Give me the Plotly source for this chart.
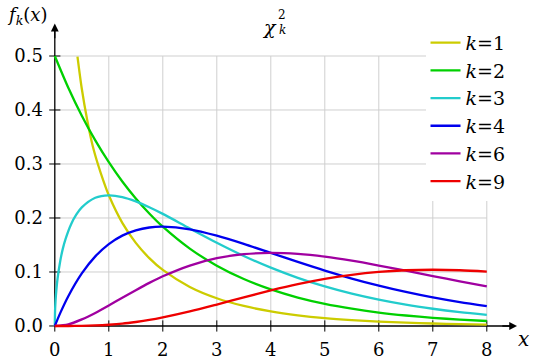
import plotly.graph_objects as go

# ---- data ----
x_main = [0, 0.25, 0.5, 0.75, 1, 1.25, 1.5, 1.75, 2, 2.5, 3, 3.5, 4, 4.5, 5, 5.5, 6, 6.5, 7, 7.5, 8]

x_k1 = [0.42, 0.5, 0.6, 0.7, 0.8, 0.9, 1, 1.25, 1.5, 1.75, 2, 2.5, 3, 3.5, 4, 4.5, 5, 5.5, 6, 6.5, 7, 7.5, 8]
y_k1 = [0.499, 0.4394, 0.3815, 0.3343, 0.2990, 0.2688, 0.2420, 0.1910, 0.1539, 0.1257, 0.1038,
        0.0723, 0.0514, 0.0371, 0.0270, 0.0198, 0.0146, 0.0109, 0.0081, 0.0061, 0.0046, 0.0034, 0.0026]

y_k2 = [0.5, 0.4412, 0.3894, 0.3436, 0.3033, 0.2676, 0.2362, 0.2084, 0.1839, 0.1433, 0.1116,
        0.0869, 0.0677, 0.0527, 0.0410, 0.0320, 0.0249, 0.0194, 0.0151, 0.0118, 0.0092]

x_k3 = [0, 0.005, 0.01, 0.02, 0.05, 0.1, 0.15, 0.2, 0.3, 0.4, 0.5, 0.75, 1, 1.25, 1.5, 1.75, 2, 2.5,
        3, 3.5, 4, 4.5, 5, 5.5, 6, 6.5, 7, 7.5, 8]
y_k3 = [0, 0.0281, 0.0397, 0.0559, 0.0870, 0.1200, 0.1437, 0.1614, 0.1881, 0.2066, 0.2197,
        0.2375, 0.2420, 0.2388, 0.2308, 0.2199, 0.2076, 0.1807, 0.1542, 0.1297, 0.1080, 0.0892,
        0.0732, 0.0598, 0.0487, 0.0394, 0.0319, 0.0257, 0.0207]

x_k4 = [0, 0.1, 0.25, 0.5, 0.75, 1, 1.25, 1.5, 1.75, 2, 2.5, 3, 3.5, 4, 4.5, 5, 5.5, 6, 6.5, 7, 7.5, 8]
y_k4 = [0, 0.0238, 0.0552, 0.0974, 0.1289, 0.1516, 0.1673, 0.1771, 0.1824, 0.1839, 0.1791,
        0.1673, 0.1521, 0.1353, 0.1186, 0.1026, 0.0879, 0.0747, 0.0630, 0.0528, 0.0441, 0.0366]

y_k6 = [0, 0.0028, 0.0122, 0.0242, 0.0379, 0.0523, 0.0664, 0.0798, 0.0920, 0.1119, 0.1255,
        0.1330, 0.1353, 0.1334, 0.1283, 0.1209, 0.1120, 0.1024, 0.0925, 0.0827, 0.0733]

y_k9 = [0, 0.0000, 0.0003, 0.0010, 0.0023, 0.0043, 0.0074, 0.0111, 0.0158, 0.0269, 0.0397,
        0.0530, 0.0658, 0.0774, 0.0872, 0.0948, 0.1001, 0.1032, 0.1041, 0.1032, 0.1008]

series = [
    ("1", x_k1, y_k1, "#cccc00"),
    ("2", x_main, y_k2, "#00d000"),
    ("3", x_k3, y_k3, "#22cccc"),
    ("4", x_k4, y_k4, "#0000ee"),
    ("6", x_main, y_k6, "#a000a0"),
    ("9", x_main, y_k9, "#ee0000"),
]

x_ticks = [0, 1, 2, 3, 4, 5, 6, 7, 8]
y_ticks = [0.0, 0.1, 0.2, 0.3, 0.4, 0.5]
y_tick_labels = ["0.0", "0.1", "0.2", "0.3", "0.4", "0.5"]
x_max, y_max = 8, 0.5
x_arrow, y_arrow = 8.56, 0.56

FONT = "DejaVu Serif"
fig = go.Figure()

# grid lines (0..8 x 0..0.5)
gx, gy = [], []
for t in x_ticks[1:]:
    gx += [t, t, None]
    gy += [0, y_max, None]
for t in y_ticks[1:]:
    gx += [0, x_max, None]
    gy += [t, t, None]
fig.add_trace(go.Scatter(x=gx, y=gy, mode="lines", line=dict(color="#cfcfcf", width=1),
                         showlegend=False, hoverinfo="skip"))

# axis lines
fig.add_trace(go.Scatter(x=[0, x_arrow - 0.05, None, 0, 0], y=[0, 0, None, 0, y_arrow - 0.005],
                         mode="lines", line=dict(color="black", width=1.3),
                         showlegend=False, hoverinfo="skip"))
# tick marks
fig.add_trace(go.Scatter(x=x_ticks, y=[0] * len(x_ticks), mode="markers",
                         marker=dict(symbol="line-ns", size=8, line=dict(color="black", width=1)),
                         showlegend=False, hoverinfo="skip"))
fig.add_trace(go.Scatter(x=[0] * len(y_ticks), y=y_ticks, mode="markers",
                         marker=dict(symbol="line-ew", size=8, line=dict(color="black", width=1)),
                         showlegend=False, hoverinfo="skip"))

for k, xs, ys, col in series:
    fig.add_trace(go.Scatter(x=xs, y=ys, mode="lines", name=f"<i>k</i>={k}",
                             line=dict(color=col, width=2.3, shape="spline", smoothing=0.8)))

# arrowheads
fig.add_annotation(x=x_arrow, y=0, ax=x_arrow - 0.3, ay=0, xref="x", yref="y", axref="x", ayref="y",
                   showarrow=True, arrowhead=2, arrowsize=1.2, arrowwidth=1.3, arrowcolor="black",
                   text="", font=dict(size=10))
fig.add_annotation(x=0, y=y_arrow, ax=0, ay=y_arrow - 0.03, xref="x", yref="y", axref="x", ayref="y",
                   showarrow=True, arrowhead=2, arrowsize=1.2, arrowwidth=1.3, arrowcolor="black",
                   text="", font=dict(size=10))

# axis labels & title
fig.add_annotation(x=-0.033, y=0.958, xref="paper", yref="paper", xanchor="center", yanchor="middle",
                   text="<i>f</i><sub><i>k</i></sub>(<i>x</i>)",
                   showarrow=False, font=dict(family=FONT, size=18, color="black"))
fig.add_annotation(x=0.9856, y=-0.006, xref="paper", yref="paper", xanchor="center", yanchor="middle",
                   text="<i>x</i>", showarrow=False,
                   font=dict(family=FONT, size=20, color="black"))
fig.add_annotation(x=3.98, y=0.554, xref="x", yref="y", xanchor="center", yanchor="middle",
                   text="<i>χ</i>", showarrow=False,
                   font=dict(family=FONT, size=19, color="black"))
fig.add_annotation(x=4.2, y=0.576, xref="x", yref="y", xanchor="center", yanchor="middle",
                   text="2", showarrow=False,
                   font=dict(family=FONT, size=12, color="black"))
fig.add_annotation(x=4.22, y=0.548, xref="x", yref="y", xanchor="center", yanchor="middle",
                   text="<i>k</i>", showarrow=False,
                   font=dict(family=FONT, size=12, color="black"))

fig.update_layout(
    width=540, height=360,
    margin=dict(l=44, r=10, t=2, b=23, autoexpand=False),
    paper_bgcolor="white", plot_bgcolor="white",
    font=dict(family=FONT, size=18, color="black"),
    xaxis=dict(range=[-0.2, 8.8], tickvals=x_ticks, showgrid=False, zeroline=False,
               showline=False, ticks="", ticklabelstandoff=0, automargin=False,
               tickfont=dict(family=FONT, size=18)),
    yaxis=dict(range=[-0.0204, 0.6], tickvals=y_ticks, ticktext=y_tick_labels, showgrid=False,
               zeroline=False, showline=False, ticks="", ticklabelstandoff=0, automargin=False,
               tickfont=dict(family=FONT, size=18)),
    legend=dict(x=0.785, y=0.935, xanchor="left", yanchor="top", bgcolor="white",
                font=dict(family=FONT, size=19), tracegroupgap=0),
    showlegend=True,
)

fig.write_html("out.html", config={"displayModeBar": False},
               post_script="document.body.style.margin='0';")
